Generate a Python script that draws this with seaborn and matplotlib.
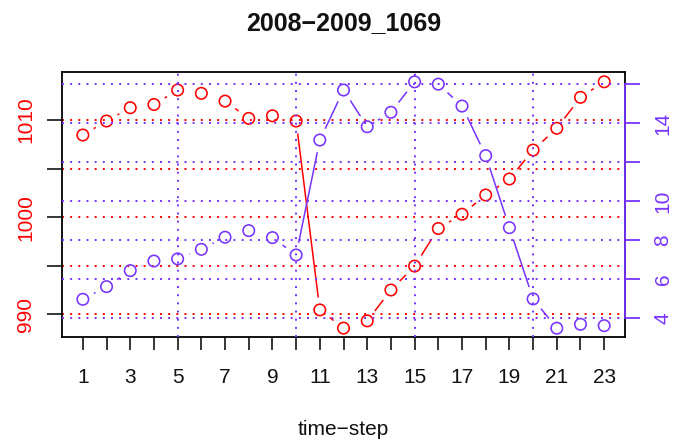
import numpy as np
import matplotlib
matplotlib.use("Agg")
import matplotlib.pyplot as plt
import seaborn as sns

# --- data ---
time_steps = list(range(1, 24))
left_values = [1008.46, 1009.90, 1011.27, 1011.60, 1013.09, 1012.75, 1011.95,
               1010.17, 1010.44, 1009.90, 990.45, 988.57, 989.32, 992.50,
               994.96, 998.83, 1000.30, 1002.28, 1003.93, 1006.91, 1009.15,
               1012.34, 1013.94]
right_values = [4.97, 5.62, 6.44, 6.93, 7.04, 7.53, 8.15, 8.49, 8.13, 7.24,
                13.13, 15.69, 13.81, 14.55, 16.11, 15.99, 14.87, 12.33, 8.64,
                4.99, 3.49, 3.69, 3.62]

left_ticks = [990, 995, 1000, 1005, 1010]
left_labels = ["990", "", "1000", "", "1010"]
right_ticks = [4, 6, 8, 10, 12, 14, 16]
right_labels = ["4", "6", "8", "10", "", "14", ""]
vgrid = [5, 10, 15, 20]

TITLE = "2008\u22122009_1069"
XLABEL = "time\u2212step"

RED = "#FF0000"
BLUE = "#7733FF"
DOTS = (0, (1.0, 3.2))

sns.set_theme(style="white")
plt.rcParams["font.family"] = ["Liberation Sans", "DejaVu Sans"]

fig = plt.figure(figsize=(6.99, 4.43), dpi=100)
ax = fig.add_axes([0.0887, 0.2393, 0.8055, 0.598])
ax2 = ax.twinx()

# points
sns.scatterplot(x=time_steps, y=left_values, ax=ax, marker="o", s=68,
                facecolors="none", edgecolor=RED, linewidth=1.15, zorder=3)
sns.scatterplot(x=time_steps, y=right_values, ax=ax2, marker="o", s=68,
                facecolors="none", edgecolor=BLUE, linewidth=1.15, zorder=3)

ax.set_xlim(0.12, 23.88)
ax.set_ylim(987.66, 1014.94)
ax2.set_ylim(3.04, 16.61)

# dotted grids
for v in left_ticks:
    ax.axhline(v, color=RED, lw=1.4, ls=DOTS, zorder=1)
for v in right_ticks:
    ax2.axhline(v, color=BLUE, lw=1.4, ls=DOTS, zorder=1)
for v in vgrid:
    ax2.axvline(v, color=BLUE, lw=1.4, ls=DOTS, zorder=1)


def gapped_line(a, xs, ys, color, gap=12.5):
    # R type="b": segments stop short of each point
    pts = a.transData.transform(np.column_stack([xs, ys]))
    inv = a.transData.inverted()
    for p, q in zip(pts[:-1], pts[1:]):
        d = q - p
        length = np.hypot(*d)
        if length <= 2 * gap:
            continue
        u = d / length
        s, e = inv.transform([p + u * gap, q - u * gap])
        a.plot([s[0], e[0]], [s[1], e[1]], color=color, lw=1.1, zorder=2,
               solid_capstyle="butt")


gapped_line(ax, time_steps, left_values, RED)
gapped_line(ax2, time_steps, right_values, BLUE)

# frame
for side in ["left", "right", "top", "bottom"]:
    ax.spines[side].set_color("black")
    ax.spines[side].set_linewidth(1.3)
for side in ["left", "top", "bottom"]:
    ax2.spines[side].set_visible(False)
ax2.spines["right"].set_color(BLUE)
ax2.spines["right"].set_linewidth(1.3)
ax2.spines["right"].set_bounds(4, 16)

# x axis
ax.set_xticks(time_steps)
ax.set_xticklabels([str(t) if t % 2 else "" for t in time_steps], fontsize=15,
                   color="#111111")
ax.tick_params(axis="x", direction="out", length=9, width=1.1, color="black",
               pad=13, bottom=True)
ax.set_xlabel(XLABEL, fontsize=15, labelpad=24, color="#111111")

# left axis
ax.set_yticks(left_ticks)
ax.set_yticklabels(left_labels, fontsize=15, color=RED, rotation=90,
                   va="center")
ax.tick_params(axis="y", direction="out", length=10.5, width=1.1,
               color="black", pad=9, left=True)

# right axis
ax2.set_yticks(right_ticks)
ax2.set_yticklabels(right_labels, fontsize=15, color=BLUE, rotation=90,
                    va="center")
ax2.tick_params(axis="y", direction="out", length=10.5, width=1.3, color=BLUE,
                pad=10, right=True)

ax.set_ylabel("")
ax2.set_ylabel("")
ax.set_title(TITLE, fontsize=18, fontweight="bold", pad=30, color="#111111")

fig.savefig("out.png", dpi=100)
